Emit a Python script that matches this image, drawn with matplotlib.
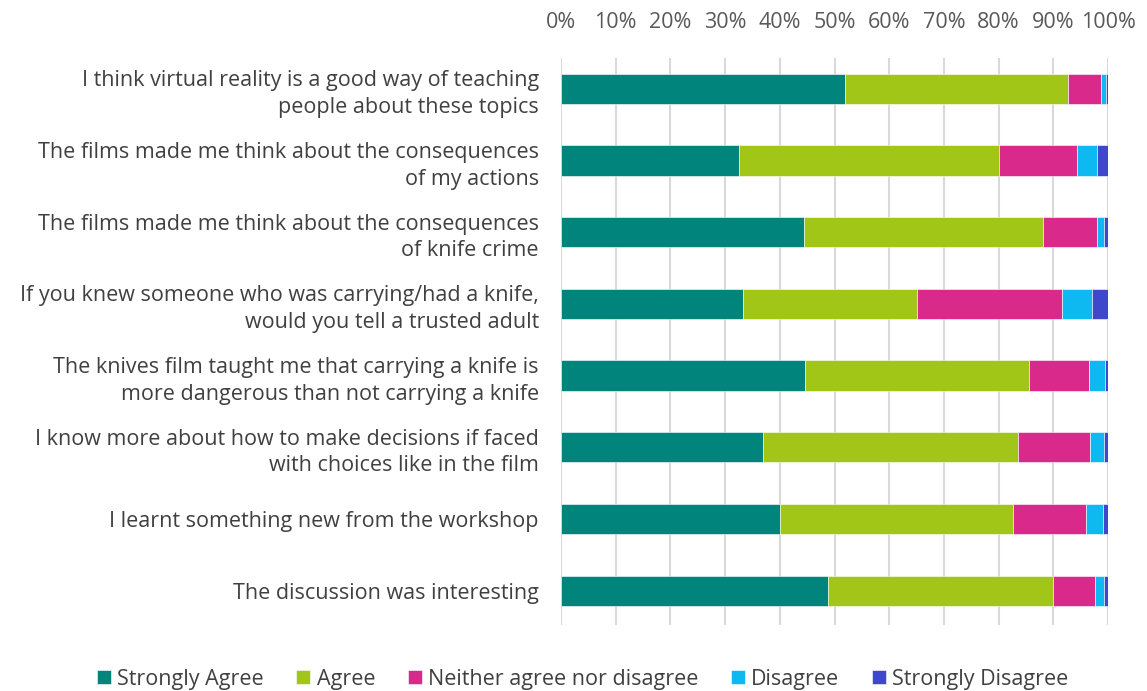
import numpy as np
import matplotlib.pyplot as plt

plt.rcParams['font.family'] = ['Open Sans', 'DejaVu Sans']

questions = [
    "I think virtual reality is a good way of teaching\npeople about these topics",
    "The films made me think about the consequences\nof my actions",
    "The films made me think about the consequences\nof knife crime",
    "If you knew someone who was carrying/had a knife,\nwould you tell a trusted adult",
    "The knives film taught me that carrying a knife is\nmore dangerous than not carrying a knife",
    "I know more about how to make decisions if faced\nwith choices like in the film",
    "I learnt something new from the workshop",
    "The discussion was interesting",
]

responses = ["Strongly Agree", "Agree", "Neither agree nor disagree",
             "Disagree", "Strongly Disagree"]

strongly_agree = [51.9, 32.6, 44.4, 33.3, 44.6, 36.9, 40.1, 48.8]
agree = [40.8, 47.5, 43.7, 31.7, 41.0, 46.7, 42.5, 41.1]
neither = [6.0, 14.2, 9.9, 26.5, 11.0, 13.1, 13.4, 7.8]
disagree = [0.95, 3.7, 1.3, 5.6, 2.8, 2.6, 3.0, 1.6]
strongly_disagree = [0.35, 2.0, 0.7, 2.9, 0.6, 0.7, 1.0, 0.7]

colors = ["#00847C", "#A2C617", "#D9298A", "#0DB9F0", "#3F48CC"]

series = [strongly_agree, agree, neither, disagree, strongly_disagree]

fig = plt.figure(figsize=(11.47, 6.91), dpi=100)
ax = fig.add_axes([561 / 1147, 1 - 625 / 691, (1108 - 561) / 1147, (625 - 58) / 691])

y = np.arange(len(questions))
left = np.zeros(len(questions))
for vals, name, c in zip(series, responses, colors):
    vals = np.array(vals)
    ax.barh(y, vals, left=left, height=0.42, color=c, label=name,
            edgecolor="white", linewidth=0.4, zorder=3)
    left += vals

ax.set_xlim(0, 100)
ax.set_ylim(len(questions) - 0.52, -0.43)
ax.set_xticks(np.arange(0, 101, 10))
ax.set_xticklabels([f"{v}%" for v in range(0, 101, 10)])
ax.xaxis.tick_top()
ax.set_yticks(y)
ax.set_yticklabels(questions, ha="right", color="#404040", linespacing=1.35)
ax.tick_params(axis="x", length=0, pad=18, labelsize=15.5, labelcolor="#595959")
ax.tick_params(axis="y", length=0, pad=16, labelsize=15.5)
ax.grid(axis="x", color="#D9D9D9", linewidth=1.5, zorder=0)
for s in ax.spines.values():
    s.set_visible(False)

fig.legend(loc="center", bbox_to_anchor=(0.508, 1 - 679 / 691), ncol=5,
           frameon=False, fontsize=15.5, handlelength=0.65, handleheight=0.65,
           handletextpad=0.3, columnspacing=1.5, labelcolor="#404040")

fig.savefig("out.png", dpi=100)
